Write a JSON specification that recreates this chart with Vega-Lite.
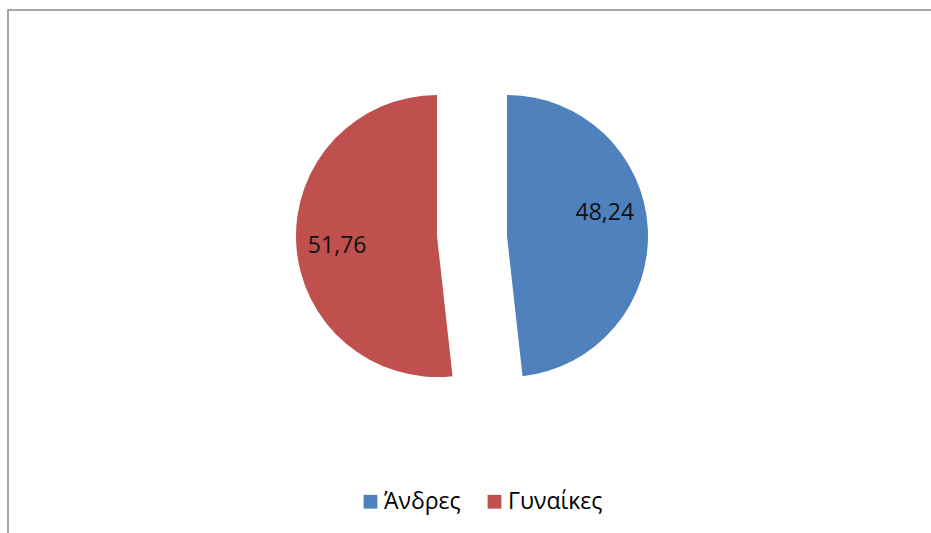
{
  "$schema": "https://vega.github.io/schema/vega-lite/v6.json",
  "width": 940,
  "height": 540,
  "padding": {"left": 8, "top": 10, "right": 0, "bottom": 0},
  "autosize": {"type": "none"},
  "background": "white",
  "config": {"view": {"stroke": null}, "font": "Open Sans"},
  "layer": [
    {
      "data": {"values": [{"frame": 1}]},
      "mark": {"type": "rect", "fill": null, "stroke": "#888888", "strokeWidth": 1.5},
      "encoding": {}
    },
    {
      "data": {"values": [
        {"g": "Άνδρες", "v": 48.24, "lbl": "48,24"},
        {"g": "Γυναίκες", "v": 51.76, "lbl": "51,76"}
      ]},
      "encoding": {
        "theta": {"field": "v", "type": "quantitative", "stack": true},
        "order": {"field": "g", "sort": "ascending"}
      },
      "layer": [
        {
          "mark": {"type": "arc", "outerRadius": 141, "xOffset": 29, "yOffset": -44},
          "encoding": {
            "color": {"field": "g", "type": "nominal",
              "scale": {"domain": ["Άνδρες", "Γυναίκες"], "range": ["#4F81BD", "#C0504D"]},
              "legend": {"orient": "none", "legendX": 351, "legendY": 480, "direction": "horizontal", "title": null,
                "symbolType": "square", "symbolSize": 190, "labelFontSize": 23, "labelFont": "Open Sans", "labelColor": "#000",
                "columnPadding": 22, "labelOffset": 2, "symbolStrokeWidth": 0}},
            "opacity": {"condition": {"test": "datum.g === 'Άνδρες'", "value": 1}, "value": 0}
          }
        },
        {
          "mark": {"type": "arc", "outerRadius": 141, "xOffset": -41, "yOffset": -44},
          "encoding": {
            "color": {"field": "g", "type": "nominal"},
            "opacity": {"condition": {"test": "datum.g === 'Γυναίκες'", "value": 1}, "value": 0}
          }
        },
        {
          "mark": {"type": "text", "radius": 98, "xOffset": 29, "yOffset": -62, "fontSize": 23, "font": "Open Sans", "color": "#111111"},
          "encoding": {
            "detail": {"field": "g", "type": "nominal"},
            "text": {"field": "lbl", "type": "nominal"},
            "opacity": {"condition": {"test": "datum.g === 'Άνδρες'", "value": 1}, "value": 0}
          }
        },
        {
          "mark": {"type": "text", "radius": 100, "xOffset": -41, "yOffset": -40, "fontSize": 23, "font": "Open Sans", "color": "#111111"},
          "encoding": {
            "detail": {"field": "g", "type": "nominal"},
            "text": {"field": "lbl", "type": "nominal"},
            "opacity": {"condition": {"test": "datum.g === 'Γυναίκες'", "value": 1}, "value": 0}
          }
        }
      ]
    }
  ]
}
